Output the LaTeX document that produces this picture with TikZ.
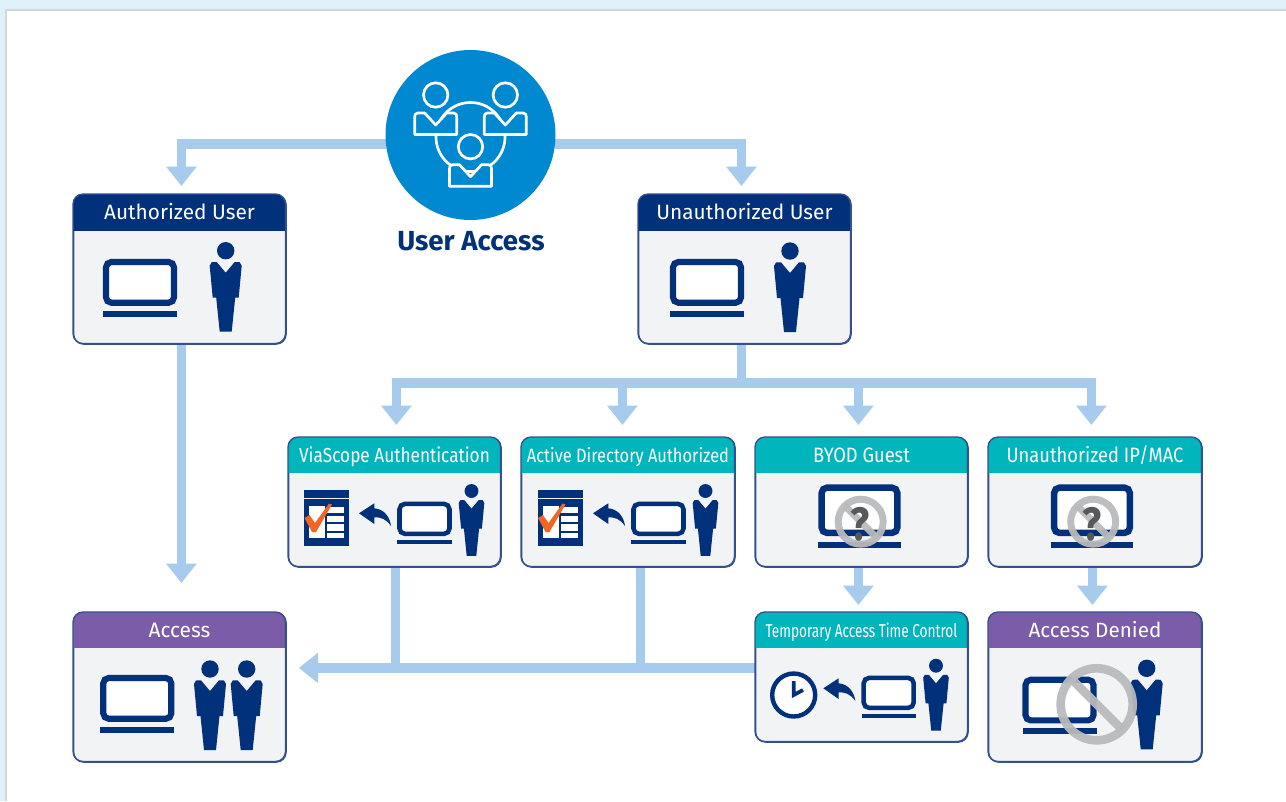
\documentclass[tikz,border=0pt]{standalone}
\usepackage{fontspec}
\setmainfont{Fira Sans}
\newfontfamily\fontA[FakeStretch=0.88]{Fira Sans}
\newfontfamily\fontB[FakeStretch=0.85]{Fira Sans}
\newfontfamily\fontC[FakeStretch=0.73]{Fira Sans}
\usetikzlibrary{arrows.meta,backgrounds,calc}
\definecolor{navy}{HTML}{00317A}
\definecolor{teal}{HTML}{00B5BC}
\definecolor{plum}{HTML}{7A5CA8}
\definecolor{flowblue}{HTML}{A7CBEC}
\definecolor{ball}{HTML}{0089D0}
\definecolor{cardbg}{HTML}{F2F3F5}
\definecolor{edge}{HTML}{35508F}
\definecolor{slash}{HTML}{B9BABC}
\definecolor{tick}{HTML}{F26522}
\definecolor{pagetint}{HTML}{DFF2FB}
\definecolor{pageline}{HTML}{D4D5D8}
\definecolor{quest}{HTML}{58595B}
\tikzset{
  x=0.75pt,y=-0.75pt,
  flow/.style={draw=flowblue,line width=7.2pt,-{Triangle[length=14.5pt,width=22pt]}},
  flowline/.style={draw=flowblue,line width=7.2pt},
  card/.style={draw=edge,line width=1pt,fill=cardbg,rounded corners=7.5pt,inner sep=0pt,anchor=north west},
  headtext/.style={text=white,inner sep=0pt,text height=10.5pt,text depth=0pt},
  pics/laptop/.style={code={
    \draw[navy,line width=#1,fill=white,rounded corners=4pt] (-34,3) rectangle (34,43.7);
    \fill[navy] (-37,51.7) rectangle (37,57.5);
  }},
  pics/person/.style={code={
    \fill[navy] (0,0) circle (8.7);
    \fill[navy] (-16,15) -- (-14,11.5) -- (-9,11.3) -- (0,22) -- (9,11.3) -- (14,11.5) -- (16,15) -- (13,47) -- (9.5,47) -- (6,81) -- (-6,81) -- (-9.5,47) -- (-13,47) -- cycle;
  }},
  pics/backarrow/.style={code={
    \fill[navy] (-16,-0.7) -- (-0.7,-10.7) -- (-0.7,-5.7) .. controls (9,-5) and (15,3) .. (16,12) .. controls (11,5) and (6,3) .. (-0.7,3.3) -- (-0.7,10) -- cycle;
  }},
  pics/member/.style={code={
    \draw[white,line width=2pt,fill=ball] (0,0) circle (12.2);
    \draw[white,line width=2pt,fill=ball,line join=round] (-11,18) -- (0,30) -- (11,18) -- (18,18) .. controls (20.5,18) and (21,20) .. (21,22) -- (21,39.5) -- (-21,39.5) -- (-21,22) .. controls (-21,20) and (-20.5,18) .. (-18,18) -- cycle;
  }},
  pics/formicon/.style={code={
    \fill[navy] (0,0) rectangle (45.3,56);
    \fill[cardbg] (0,7.7) rectangle (45.3,9);
    \fill[white] (5,16) rectangle (21,48.3);
    \fill[white] (23.3,16.7) rectangle (40.3,23.3);
    \fill[white] (23.3,25.7) rectangle (40.3,31.7);
    \fill[white] (23.3,34.3) rectangle (40.3,40.7);
    \fill[white] (23.3,42.7) rectangle (40.3,48.3);
    \fill[tick] (0.5,28) -- (5.5,25) -- (11,33) -- (25,13.5) -- (28,14.5) -- (12,42) -- (8,42) -- cycle;
  }}
}
\newcommand{\cardbox}[8]{% name,x1,y1,x2,y2,yhead,colour,text
  \node[card,minimum width=#4 *.75pt - #2 *.75pt - .4pt,minimum height=#5 *.75pt - #3 *.75pt - .4pt] (#1) at (#2,#3) {};
  \begin{scope}
    \clip[rounded corners=7.5pt] (#2,#3) rectangle ({#4-.5},{#5-.5});
    \fill[#7] (#2,#3) rectangle (#4,#6);
  \end{scope}
  \draw[edge,line width=1pt,rounded corners=7.5pt] (#2,#3) rectangle ({#4-.5},{#5-.5});
  \node[headtext] (#1-t) at ({(#2+#4)/2},{(#3+#6)/2}) {#8};
}
\newcommand{\ringmark}[4]{% x,y,r,width
  \begin{scope}[shift={(#1,#2)}]
    \draw[slash,line width=#4,opacity=.94] (0,0) circle (#3);
    \draw[slash,line width=#4,opacity=.94] ({-#3*.707},{-#3*.707}) -- ({#3*.707},{#3*.707});
  \end{scope}
}
\begin{document}
\begin{tikzpicture}
\useasboundingbox (0,0) rectangle (1286,801);

% user access circle
\node[circle,fill=ball,minimum size=127.5pt,inner sep=0pt] (ua) at (470.5,135) {};
\draw[white,line width=2pt] (470.5,137) circle (34.5);
\pic at (435.7,95) {member};
\pic at (505.3,95) {member};
\pic at (470.5,146.7) {member};
\node[text=navy,font=\bfseries\fontsize{20.7}{21}\selectfont,inner sep=0pt] (ualabel) at (471,241) {User Access};

% cards
\cardbox{auth}{73}{194}{286}{344}{231}{navy}{\fontsize{15.6}{16}\selectfont Authorized User}
\cardbox{unauth}{638}{194}{851}{344}{231}{navy}{\fontsize{15.6}{16}\selectfont Unauthorized User}
\cardbox{via}{288}{437}{501}{567}{473}{teal}{\fontB\fontsize{15.2}{16}\selectfont ViaScope Authentication}
\cardbox{ad}{521}{437}{735}{567}{473}{teal}{\fontB\fontsize{14.5}{16}\selectfont Active Directory Authorized}
\cardbox{byod}{755}{437}{968}{567}{473}{teal}{\fontA\fontsize{15.6}{16}\selectfont BYOD Guest}
\cardbox{ip}{988}{437}{1202}{567}{473}{teal}{\fontA\fontsize{15.6}{16}\selectfont Unauthorized IP/MAC}
\cardbox{temp}{755}{612}{968}{742}{648}{teal}{\fontC\fontsize{14}{16}\selectfont Temporary Access Time Control}
\cardbox{denied}{988}{612}{1202}{762}{648}{plum}{\fontsize{15.5}{16}\selectfont Access Denied}
\cardbox{access}{73}{612}{286}{762}{648}{plum}{\fontsize{15.7}{16}\selectfont Access}

% icons
\pic at (140,259) {laptop=4.6pt};
\pic at (225.7,250.7) {person};
\pic at (707,259) {laptop=4.6pt};
\pic at (790,251) {person};

\pic at (304,490) {formicon};
\pic at (375,514) {backarrow};
\pic[scale=.735] at (424.5,501.7) {laptop=3.4pt};
\pic[scale=.8] at (471.5,491) {person};

\pic at (537.5,490) {formicon};
\pic at (609,514) {backarrow};
\pic[scale=.735] at (658.5,501.7) {laptop=3.4pt};
\pic[scale=.8] at (705.5,491) {person};

\pic[scale=1.113] at (859.5,484.3) {laptop=4.8pt};
\ringmark{860.7}{521.7}{22.5}{5.2pt}
\node[text=quest,inner sep=0pt,font=\fontB\bfseries\fontsize{35}{36}\selectfont] (qmbyod) at (859.7,524) {?};
\pic[scale=1.113] at (1092,484.3) {laptop=4.8pt};
\ringmark{1093.2}{521.7}{22.5}{5.2pt}
\node[text=quest,inner sep=0pt,font=\fontB\bfseries\fontsize{35}{36}\selectfont] (qmip) at (1092.2,524) {?};

% clock
\draw[navy,line width=3.3pt,fill=white] (793.7,695) circle (21.5);
\draw[navy,line width=2.8pt] (793.7,681) -- (793.7,695) -- (803,690);
\pic at (839.3,689) {backarrow};
\pic[scale=.735] at (888.7,675.7) {laptop=3.4pt};
\pic[scale=.8] at (936,665.7) {person};

\pic at (1059.5,676.7) {laptop=4.6pt};
\pic at (1146.7,668.3) {person};
\ringmark{1096.7}{704.3}{36}{6.5pt}

\pic at (137.3,675) {laptop=4.6pt};
\pic at (210,669) {person};
\pic at (246.7,669) {person};

\begin{pgfonlayer}{background}
  \fill[white] (0,0) rectangle (1286,801);
  \fill[pagetint] (0,0) rectangle (1286,9);
  \fill[pagetint] (0,0) rectangle (5,801);
  \fill[pageline] (5,9) rectangle (1286,11);
  \fill[pageline] (5,9) rectangle (7,801);

  \draw[flow] ($(ua.west)+(1,9)$) -| ($(auth.north)+(1.5,-8)$);
  \draw[flow] ($(ua.east)+(-1,9)$) -| ($(unauth.north)+(-3.5,-8)$);
  \draw[flow] ($(auth.south)+(1.5,0)$) -- ($(access.north)+(1.5,-29)$);

  \coordinate (bus) at ($(unauth.south)+(-3.5,38)$);
  \coordinate (tipvia) at ($(via.north)+(1.5,-12)$);
  \coordinate (tipad) at ($(ad.north)+(-6,-12)$);
  \coordinate (tipbyod) at ($(byod.north)+(-3.5,-12)$);
  \coordinate (tipip) at ($(ip.north)+(-4,-12)$);
  \draw[flowline] ($(unauth.south)+(-3.5,0)$) -- (bus);
  \draw[flow] (bus) -| (tipvia);
  \draw[flow] (bus) -| (tipip);
  \draw[flow] (bus -| tipad) -- (tipad);
  \draw[flow] (bus -| tipbyod) -- (tipbyod);

  \draw[flow] ($(byod.south)+(-3.5,0)$) -- ($(temp.north)+(-3.5,-7)$);
  \draw[flow] ($(ip.south)+(-3,0)$) -- ($(denied.north)+(-3,-7)$);

  \coordinate (lowbus) at ($(temp.west)+(0,-9.5)$);
  \coordinate (viadrop) at ($(via.south)+(.5,0)$);
  \coordinate (addrop) at ($(ad.south)+(12,0)$);
  \draw[flow] (lowbus) -- ($(access.east)+(12,-19.5)$);
  \draw[flowline] (viadrop) -- (viadrop |- lowbus);
  \draw[flowline] (addrop) -- (addrop |- lowbus);
\end{pgfonlayer}
\end{tikzpicture}
\end{document}
